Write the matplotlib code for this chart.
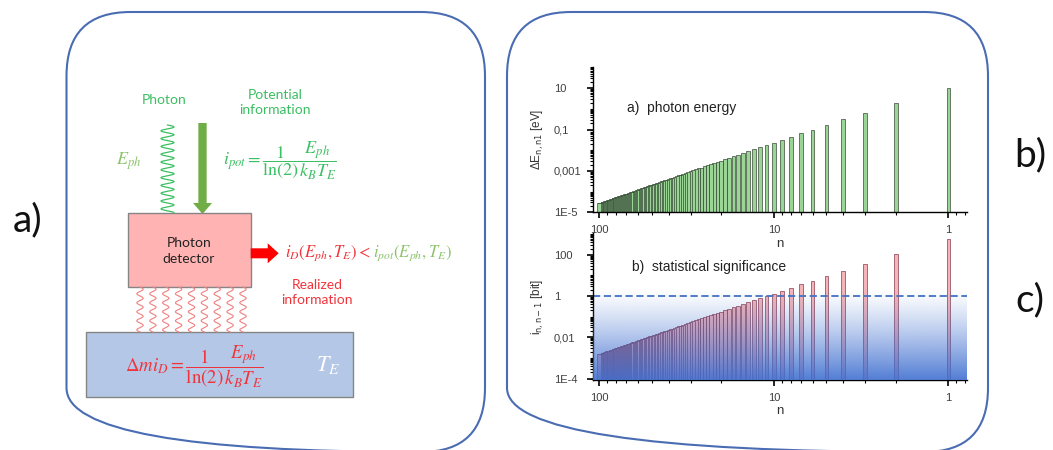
import matplotlib
matplotlib.use("Agg")

import matplotlib.pyplot as plt
import matplotlib.patches as mpatches
from matplotlib.ticker import FixedLocator, FixedFormatter, LogLocator, NullFormatter
import numpy as np

plt.rcParams["mathtext.fontset"] = "stix"

# ── Data ──────────────────────────────────────────────────────────────────────
n_levels = np.arange(1, 101)

photon_energy_ev = [
    10.2, 1.889, 0.661, 0.306, 0.1662, 0.1002, 0.0651, 0.0446, 0.0319, 0.0236,
    0.01795, 0.01397, 0.01109, 0.00894, 0.00732, 0.00607, 0.00508, 0.0043, 0.00367, 0.00316,
    0.00274, 0.00239, 0.0021, 0.00185, 0.00164, 0.00146, 0.00131, 0.001175, 0.00106, 0.000959,
    0.00087, 0.000792, 0.000723, 0.000662, 0.000608, 0.000559, 0.000516, 0.000477, 0.000441, 0.000409,
    0.000381, 0.000354, 0.00033, 0.000309, 0.000289, 0.000271, 0.000254, 0.000238, 0.000224, 0.000211,
    0.000199, 0.000188, 0.000178, 0.000168, 0.000159, 0.000151, 0.000143, 0.000136, 0.000129, 0.000123,
    0.000117, 0.000111, 0.000106, 0.000101, 9.68e-5, 9.25e-5, 8.84e-5, 8.46e-5, 8.1e-5, 7.76e-5,
    7.44e-5, 7.14e-5, 6.85e-5, 6.58e-5, 6.32e-5, 6.08e-5, 5.84e-5, 5.62e-5, 5.41e-5, 5.21e-5,
    5.02e-5, 4.84e-5, 4.67e-5, 4.51e-5, 4.35e-5, 4.2e-5, 4.06e-5, 3.92e-5, 3.79e-5, 3.67e-5,
    3.55e-5, 3.44e-5, 3.33e-5, 3.22e-5, 3.12e-5, 3.03e-5, 2.93e-5, 2.85e-5, 2.76e-5, 2.68e-5,
]

significance_bit = [
    569, 105.4, 36.9, 17.07, 9.27, 5.59, 3.63, 2.49, 1.78, 1.317,
    1.002, 0.78, 0.619, 0.499, 0.408, 0.338, 0.284, 0.24, 0.205, 0.176,
    0.1527, 0.1333, 0.117, 0.1032, 0.0915, 0.0816, 0.073, 0.0656, 0.0591, 0.0535,
    0.0485, 0.0442, 0.0403, 0.0369, 0.0339, 0.0312, 0.0288, 0.0266, 0.0246, 0.0228,
    0.0213, 0.0198, 0.0184, 0.0172, 0.0161, 0.0151, 0.0142, 0.0133, 0.0125, 0.0118,
    0.0111, 0.0105, 0.00993, 0.00937, 0.00887, 0.00843, 0.00798, 0.00759, 0.0072, 0.00686,
    0.00653, 0.00619, 0.00591, 0.00564, 0.0054, 0.00516, 0.00493, 0.00472, 0.00452, 0.00433,
    0.00415, 0.00398, 0.00382, 0.00367, 0.00353, 0.00339, 0.00326, 0.00314, 0.00302, 0.00291,
    0.0028, 0.0027, 0.00261, 0.00252, 0.00243, 0.00234, 0.00227, 0.00219, 0.00211, 0.00205,
    0.00198, 0.00192, 0.00186, 0.0018, 0.00174, 0.00169, 0.00163, 0.00159, 0.00154, 0.0015,
]

one_bit_level = 1.0

n_tick_values = [100, 10, 1]
n_tick_labels = ["100", "10", "1"]
energy_tick_values = [1e-5, 1e-3, 1e-1, 10]
energy_tick_labels = ["1E-5", "0,001", "0,1", "10"]
bit_tick_values = [1e-4, 1e-2, 1, 100]
bit_tick_labels = ["1E-4", "0,01", "1", "100"]

# ── Colours ───────────────────────────────────────────────────────────────────
BOX_LINE = "#4A6CB3"
GREEN_TXT = "#3BBF62"
GREEN_LIGHT = "#8DC26B"
GREEN_ARROW = "#70AD47"
RED_TXT = "#F0343C"
PINK_BOX = "#FFB3B3"
BLUE_BOX = "#B4C7E7"
GREY_EDGE = "#858585"

W, H = 1053, 450
fig = plt.figure(figsize=(W / 100, H / 100), dpi=100)
fig.patch.set_facecolor("white")

# ── Schematic layer (pixel coordinates) ───────────────────────────────────────
bg = fig.add_axes([0, 0, 1, 1])
bg.set_xlim(0, W)
bg.set_ylim(H, 0)
bg.axis("off")
bg.set_zorder(-1)

for x0, w in [(66.5, 418.5), (507, 481)]:
    bg.add_patch(mpatches.FancyBboxPatch(
        (x0, 12), w, 440, boxstyle="round,pad=0,rounding_size=64",
        fill=False, edgecolor=BOX_LINE, linewidth=1.5))

for lbl, (x, y) in zip(["a)", "b)", "c)"], [(28, 220), (1030, 155), (1030, 300)]):
    bg.text(x, y, lbl, fontsize=28, family="Lato", ha="center", va="center", color="#111111")

# photon wave
yy = np.linspace(125, 213, 400)
bg.plot(167.5 + 6.5 * np.sin(2 * np.pi * (yy - 125) / 7.8), yy, color=GREEN_TXT, lw=0.9)

# heat waves
yy = np.linspace(287, 332, 300)
for x0 in np.linspace(140, 243, 9):
    bg.plot(x0 + 3.2 * np.sin(2 * np.pi * (yy - 287) / 9.0), yy, color="#F08080", lw=0.8)

bg.add_patch(mpatches.FancyArrow(202.5, 123, 0, 91, width=8.3, head_width=19, head_length=11,
                                 length_includes_head=True, color=GREEN_ARROW, lw=0))
bg.add_patch(mpatches.Rectangle((128.3, 213.3), 122.4, 73.4, fc=PINK_BOX, ec=GREY_EDGE, lw=1))
bg.add_patch(mpatches.FancyArrow(250.7, 253.3, 28, 0, width=10, head_width=20, head_length=11,
                                 length_includes_head=True, color="#FF0000", lw=0))
bg.add_patch(mpatches.Rectangle((85.7, 332.3), 267, 64.4, fc=BLUE_BOX, ec=GREY_EDGE, lw=1))

txt = dict(family="Lato", fontsize=10, ha="center", va="center")
bg.text(164, 100, "Photon", color=GREEN_TXT, **txt)
bg.text(275, 102.5, "Potential\ninformation", color=GREEN_TXT, linespacing=1.35, **txt)
bg.text(189, 251, "Photon\ndetector", color="#222222", linespacing=1.35, **txt)
bg.text(317, 292.5, "Realized\ninformation", color=RED_TXT, linespacing=1.35, **txt)

bg.text(128.3, 161.7, r"$E_{ph}$", color=GREEN_LIGHT, fontsize=13, ha="center", va="center")
bg.text(280, 160, r"$i_{pot}=\dfrac{1}{\ln(2)}\dfrac{E_{ph}}{k_BT_E}$", color=GREEN_TXT,
        fontsize=13, ha="center", va="center")
bg.text(371, 253.3, r"$i_D\left(E_{ph},T_E\right) <$", color=RED_TXT, fontsize=12,
        ha="right", va="center")
bg.text(373, 253.3, r"$i_{pot}\left(E_{ph},T_E\right)$", color=GREEN_LIGHT, fontsize=12,
        ha="left", va="center")
bg.text(194, 366.5, r"$\Delta mi_D=\dfrac{1}{\ln(2)}\dfrac{E_{ph}}{k_BT_E}$", color=RED_TXT,
        fontsize=13.5, ha="center", va="center")
bg.text(328, 365, r"$T_E$", color="white", fontsize=16, ha="center", va="center")

# ── Bar plots ─────────────────────────────────────────────────────────────────
FONT = "Liberation Sans"
half = 10 ** 0.0105
lefts = n_levels / half
widths = n_levels * half - n_levels / half


def px_axes(left, top, right, bottom):
    return fig.add_axes([left / W, 1 - bottom / H, (right - left) / W, (bottom - top) / H])


def style_axes(ax, ymin, ymax, yvals, ylabels):
    ax.set_xscale("log")
    ax.set_yscale("log")
    ax.set_xlim(108.2, 0.785)
    ax.set_ylim(ymin, ymax)
    ax.set_facecolor("none")
    for side in ("top", "right"):
        ax.spines[side].set_visible(False)
    for side in ("left", "bottom"):
        ax.spines[side].set_linewidth(1.0)
    ax.xaxis.set_major_locator(FixedLocator(n_tick_values))
    ax.xaxis.set_major_formatter(FixedFormatter(n_tick_labels))
    ax.xaxis.set_minor_locator(LogLocator(base=10, subs=np.arange(2, 10)))
    ax.xaxis.set_minor_formatter(NullFormatter())
    ax.yaxis.set_major_locator(FixedLocator(yvals))
    ax.yaxis.set_major_formatter(FixedFormatter(ylabels))
    ax.yaxis.set_minor_locator(LogLocator(base=10, subs=np.arange(1, 10), numticks=20))
    ax.yaxis.set_minor_formatter(NullFormatter())
    ax.tick_params(which="major", direction="out", length=4, width=1.2, labelsize=8,
                   labelcolor="#3F3F3F")
    ax.tick_params(which="minor", direction="out", length=2.2, width=0.8)
    ax.tick_params(axis="x", pad=5.5)
    ax.tick_params(axis="y", pad=24.5)
    for lab in ax.get_yticklabels():
        lab.set_horizontalalignment("left")
        lab.set_family(FONT)
    for lab in ax.get_xticklabels():
        lab.set_family(FONT)
    ax.set_xlabel("n", fontsize=9.5, family=FONT, color="#333333", labelpad=1.5)


ax1 = px_axes(593.3, 67.3, 966.7, 212.3)
style_axes(ax1, 1e-5, 102, energy_tick_values, energy_tick_labels)
ax1.bar(lefts, np.array(photon_energy_ev) - 1e-5, width=widths, bottom=1e-5, align="edge",
        color="#9AD596", edgecolor="#2A382A", linewidth=0.45)
ax1.text(0.09, 0.72, "a)  photon energy", transform=ax1.transAxes, fontsize=10, family=FONT,
         va="center", color="#222222")
ax1.set_ylabel("ΔE$_{\\mathrm{n,n1}}$ [eV]", fontsize=8.5, family=FONT, color="#333333",
               math_fontfamily="dejavusans")
ax1.yaxis.set_label_coords(-0.128, 0.5)

ax2 = px_axes(593.3, 233.3, 966.7, 380)
style_axes(ax2, 8.5e-5, 1100, bit_tick_values, bit_tick_labels)
ax2.bar(lefts, np.array(significance_bit) - 8.5e-5, width=widths, bottom=8.5e-5, align="edge",
        color="#F4B4B9", edgecolor="#7A2A3C", linewidth=0.45)
ax2.axhline(one_bit_level, color="#4472C4", lw=1.3, ls=(0, (4, 2)))
ax2.text(0.103, 0.772, "b)  statistical significance", transform=ax2.transAxes, fontsize=10,
         family=FONT, va="center", color="#222222")
ax2.set_ylabel("i$_{\\mathrm{n,n-1}}$ [bit]", fontsize=8.5, family=FONT, color="#333333",
               math_fontfamily="dejavusans")
ax2.yaxis.set_label_coords(-0.128, 0.5)

# blue shading laid over the lower part of the bars
ov = fig.add_axes(ax2.get_position())
ov.set_zorder(ax2.get_zorder() + 1)
ov.patch.set_alpha(0)
ov.axis("off")
ly0, ly1 = np.log10(8.5e-5), np.log10(1100)
y_start = (np.log10(2.0) - ly0) / (ly1 - ly0)
yf = np.linspace(0, 1, 400)
alpha = np.clip((y_start - yf) / y_start, 0, 1) ** 1.2 * 0.9
rgba = np.zeros((400, 2, 4))
rgba[..., :3] = matplotlib.colors.to_rgb("#3F6FD0")
rgba[..., 3] = alpha[:, None]
ov.imshow(rgba, extent=[0, 1, 0, 1], origin="lower", aspect="auto", interpolation="bilinear")
ov.set_xlim(0, 1)
ov.set_ylim(0, 1)

fig.savefig("out.png", dpi=100)
